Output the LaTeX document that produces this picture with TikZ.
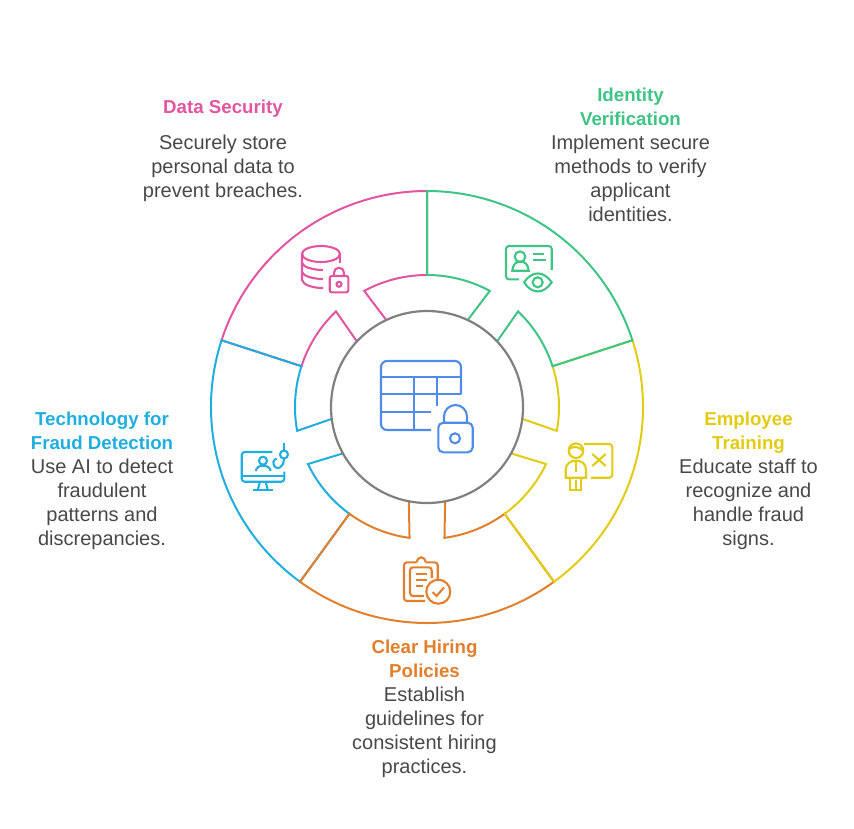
\documentclass[tikz,border=0pt]{standalone}
\usepackage{fontspec}
\usepackage{xcolor}
\setmainfont{Liberation Sans}
\usetikzlibrary{positioning,calc}
\definecolor{pinkc}{HTML}{E255A1}
\definecolor{greenc}{HTML}{3EC484}
\definecolor{yellowc}{HTML}{E2CB13}
\definecolor{orangec}{HTML}{E17F2C}
\definecolor{bluec}{HTML}{1FAEDD}
\definecolor{iconc}{HTML}{4F8BE8}
\definecolor{hubc}{HTML}{808080}
\definecolor{textc}{HTML}{484848}
\newcommand{\lbltitle}[2]{\textcolor{#1}{\fontsize{18.7}{24}\selectfont\bfseries #2}}

\begin{document}
\begin{tikzpicture}[
  x=1pt, y=1pt, yscale=-1,
  lbl/.style={align=center, text=textc, inner sep=0pt, font=\fontsize{20}{24}\selectfont},
  hub/.style={draw=hubc, line width=2.2pt, circle, minimum size=192pt, inner sep=0pt},
  sector/.style={line width=2pt, line join=miter},
  icon/.style={line width=2.1pt, rounded corners=3pt},
  line/.style={line width=2.1pt},
]
  \useasboundingbox (0,0) rectangle (854,828);

  \foreach \clr/\a in {pinkc/198, bluec/126, orangec/54, yellowc/342, greenc/270} {
    \begin{scope}[shift={(427,407)}]
      \draw[sector, draw=\clr] ({\a+25.1}:96) -- ({\a+28.4}:132)
        arc[start angle=\a+28.4, end angle=\a, radius=132] -- (\a:216)
        arc[start angle=\a, end angle=\a+72, radius=216] -- ({\a+72}:132)
        arc[start angle=\a+72, end angle=\a+43.6, radius=132] -- ({\a+46.9}:96);
    \end{scope}
  }
  \node[hub] (vault) at (427,407) {};

  % centre icon
  \draw[icon, draw=iconc, rounded corners=6pt] (461,394.3) -- (461,361) -- (381,361) -- (381,430) -- (431,430);
  \draw[line, draw=iconc] (381,376.7) -- (461,376.7);
  \draw[line, draw=iconc] (381,394.3) -- (461,394.3);
  \draw[line, draw=iconc] (381,411.7) -- (431,411.7);
  \draw[line, draw=iconc] (413.7,376.7) -- (413.7,430);
  \draw[line, draw=iconc] (436.7,376.7) -- (436.7,405.7);
  \draw[icon, draw=iconc, rounded corners=5pt] (438.3,422.7) rectangle (472.7,452.3);
  \draw[line, draw=iconc] (444,422.7) -- (444,416.5) arc[start angle=180, end angle=360, radius=11.5] -- (467,422.7);
  \draw[line, draw=iconc] (455,438.3) circle[radius=5];

  % data security icon
  \draw[line, draw=pinkc] (321,254) ellipse[x radius=19, y radius=8];
  \draw[line, draw=pinkc] (340,254) -- (340,263);
  \draw[line, draw=pinkc] (302,254) -- (302,280) .. controls (303,285) and (313,288) .. (323,288);
  \draw[line, draw=pinkc] (302,263) .. controls (303,267) and (313,270) .. (323,270);
  \draw[line, draw=pinkc] (302,272) .. controls (303,276) and (313,279) .. (323,279);
  \draw[icon, draw=pinkc, rounded corners=2pt] (329.7,276) rectangle (348.3,292.3);
  \draw[line, draw=pinkc] (334,276) -- (334,272.7) arc[start angle=180, end angle=360, radius=5] -- (344,276);
  \draw[line, draw=pinkc] (339,284.3) circle[radius=2.5];

  % identity icon
  \draw[icon, draw=greenc] (551.7,270) -- (551.7,246) -- (506,246) -- (506,279.3) -- (519,279.3);
  \draw[line, draw=greenc] (520,256.7) circle[radius=5.3];
  \draw[line, draw=greenc] (512.3,270.7) .. controls (513,264) and (516,261.7) .. (520.5,261.7)
    .. controls (525,261.7) and (528,264) .. (528.7,270.7) -- cycle;
  \draw[line, draw=greenc] (532.7,254) -- (544,254);
  \draw[line, draw=greenc] (532.7,260) -- (545.7,260);
  \draw[line, draw=greenc] (524,282.3) .. controls (532,270.5) and (543.5,270.5) .. (551.7,282.3)
    .. controls (543.5,294.5) and (532,294.5) .. (524,282.3) -- cycle;
  \draw[line, draw=greenc] (537.7,282.3) circle[radius=5];

  % training icon
  \draw[line, draw=yellowc] (576,450.7) circle[radius=7.3];
  \draw[line, draw=yellowc] (569,449) .. controls (573,446) and (579,446) .. (583,451);
  \draw[line, draw=yellowc] (565.7,477.7) -- (565.7,470) .. controls (565.7,464) and (570,460.7) .. (576,460.7)
    .. controls (582,460.7) and (586,464) .. (586,470) -- (586,477.7) -- cycle;
  \draw[line, draw=yellowc] (576,460.7) -- (576,471.7);
  \draw[line, draw=yellowc] (570,477.7) -- (570,490) -- (581.3,490) -- (581.3,477.7);
  \draw[line, draw=yellowc] (576,480) -- (576,490);
  \draw[icon, draw=yellowc] (584,444) -- (612.3,444) -- (612.3,477.7) -- (591,477.7);
  \draw[line, draw=yellowc] (592.3,454) -- (605.7,466);
  \draw[line, draw=yellowc] (592.3,466) -- (605.7,454);

  % policies icon
  \draw[icon, draw=orangec] (437.7,580) -- (437.7,562.3) -- (425.7,562.3);
  \draw[line, draw=orangec] (416.7,562.3) .. controls (417.5,559) and (419,557.3) .. (421.2,557.3)
    .. controls (423.4,557.3) and (425,559) .. (425.7,562.3);
  \draw[icon, draw=orangec] (416.7,562.3) -- (404,562.3) -- (404,601) -- (425,601);
  \draw[icon, draw=orangec] (431.7,578) -- (431.7,567.3) -- (410,567.3) -- (410,596) -- (424,596);
  \draw[line, draw=orangec] (415.7,574) -- (426.7,574);
  \draw[line, draw=orangec] (415.7,580) -- (426.7,580);
  \draw[line, draw=orangec] (415.7,586) -- (423,586);
  \draw[line, draw=orangec] (438.3,591.7) circle[radius=12];
  \draw[line, draw=orangec] (432.5,592) -- (436.5,596) -- (444,587.5);

  % fraud detection icon
  \draw[icon, draw=bluec] (272.3,452) -- (241.7,452) -- (241.7,481.7) -- (284.3,481.7) -- (284.3,471.7);
  \draw[line, draw=bluec] (241.7,475.7) -- (284.3,475.7);
  \draw[line, draw=bluec] (260,481.7) -- (257.7,490);
  \draw[line, draw=bluec] (265.7,481.7) -- (267.7,490);
  \draw[line, draw=bluec] (253.3,490) -- (272.7,490);
  \draw[line, draw=bluec] (263,460.7) circle[radius=4];
  \draw[line, draw=bluec] (255.7,471) .. controls (256.5,467.5) and (259,465.7) .. (263,465.7)
    .. controls (267,465.7) and (270,467.5) .. (270.7,471);
  \draw[line, draw=bluec] (284,443.3) -- (284,450);
  \draw[line, draw=bluec] (284,454.5) circle[radius=4];
  \draw[line, draw=bluec] (284,458.5) .. controls (284,464) and (281,468) .. (278,468)
    .. controls (275,468) and (273,465) .. (273.5,461.5) .. controls (274,460) and (275,459) .. (276.7,458.7);

  \node[lbl] (security) at (223,151) {\lbltitle{pinkc}{Data Security}\\[12pt]Securely store\\personal data to\\prevent breaches.};
  \node[lbl] (identity) at (630.5,155) {\lbltitle{greenc}{Identity}\\\lbltitle{greenc}{Verification}\\Implement secure\\methods to verify\\applicant\\identities.};
  \node[lbl] (training) at (748.5,481) {\lbltitle{yellowc}{Employee}\\\lbltitle{yellowc}{Training}\\Educate staff to\\recognize and\\handle fraud\\signs.};
  \node[lbl] (policies) at (424.5,709) {\lbltitle{orangec}{Clear Hiring}\\\lbltitle{orangec}{Policies}\\Establish\\guidelines for\\consistent hiring\\practices.};
  \node[lbl] (fraud) at (102,481) {\lbltitle{bluec}{Technology for}\\\lbltitle{bluec}{Fraud Detection}\\Use AI to detect\\fraudulent\\patterns and\\discrepancies.};
\end{tikzpicture}
\end{document}
